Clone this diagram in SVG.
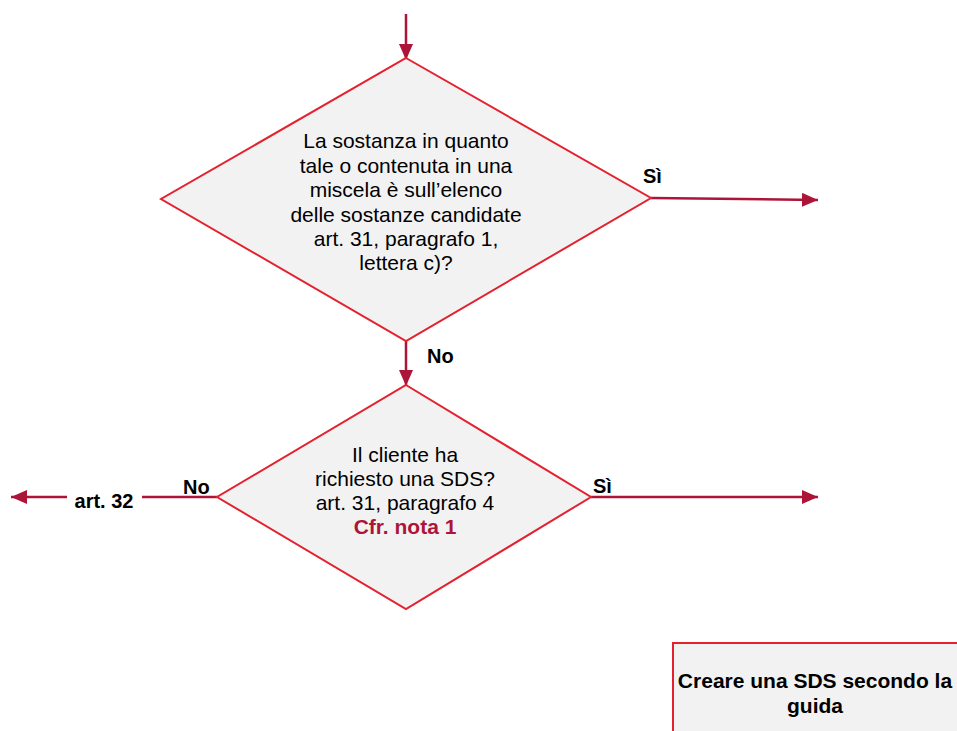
<svg xmlns="http://www.w3.org/2000/svg" width="957" height="731" viewBox="0 0 957 731">
<style>
.shape{fill:#f2f2f2;stroke:#e3212f;stroke-width:2;}
.conn{stroke:#ad1538;stroke-width:2.5;fill:none;}
.t{font-family:"Liberation Sans",Arial,sans-serif;font-size:21px;fill:#000;text-anchor:middle;}
.b{font-family:"Liberation Sans",Arial,sans-serif;font-size:20px;font-weight:bold;fill:#000;}
.note{fill:#ad1538;font-weight:bold;}
</style>
<defs>
<marker id="ah" viewBox="0 0 16 14" refX="16" refY="7" markerWidth="16" markerHeight="14" markerUnits="userSpaceOnUse" orient="auto">
<path d="M0,0 L16,7 L0,14 z" fill="#ad1538"/>
</marker>
</defs>
<rect width="957" height="731" fill="#fff"/>
<g id="connectors">
<line class="conn" x1="406" y1="14" x2="406" y2="60" marker-end="url(#ah)"/>
<line class="conn" x1="651" y1="198" x2="818" y2="200" marker-end="url(#ah)"/>
<line class="conn" x1="406" y1="341" x2="406" y2="386" marker-end="url(#ah)"/>
<line class="conn" x1="591" y1="497" x2="818" y2="497" marker-end="url(#ah)"/>
<line class="conn" x1="217" y1="497" x2="142" y2="497"/>
<line class="conn" x1="67" y1="497" x2="11" y2="497" marker-end="url(#ah)"/>
<text class="b" x="643" y="183">Sì</text>
<text class="b" x="427" y="363">No</text>
<text class="b" x="183" y="494">No</text>
<text class="b" x="593" y="493">Sì</text>
<text class="b" x="104" y="508" text-anchor="middle" font-size="21">art. 32</text>
</g>
<g id="decision1">
<polygon class="shape" points="406,58 651,198 406,341 161,199"/>
<text class="t" x="406" y="148">La sostanza in quanto</text>
<text class="t" x="406" y="172.5">tale o contenuta in una</text>
<text class="t" x="406" y="197">miscela è sull’elenco</text>
<text class="t" x="406" y="221.5">delle sostanze candidate</text>
<text class="t" x="406" y="246">art. 31, paragrafo 1,</text>
<text class="t" x="406" y="270">lettera c)?</text>
</g>
<g id="decision2">
<polygon class="shape" points="406,385 591,497 406,609 217,497"/>
<text class="t" x="405" y="462">Il cliente ha</text>
<text class="t" x="405" y="486">richiesto una SDS?</text>
<text class="t" x="405" y="510">art. 31, paragrafo 4</text>
<text class="t note" x="405" y="534">Cfr. nota 1</text>
</g>
<g id="process1">
<rect class="shape" x="673" y="643" width="300" height="100"/>
<text class="t" x="815" y="688" font-weight="bold" font-size="20">Creare una SDS secondo la</text>
<text class="t" x="815" y="713" font-weight="bold" font-size="20">guida</text>
</g>
</svg>
